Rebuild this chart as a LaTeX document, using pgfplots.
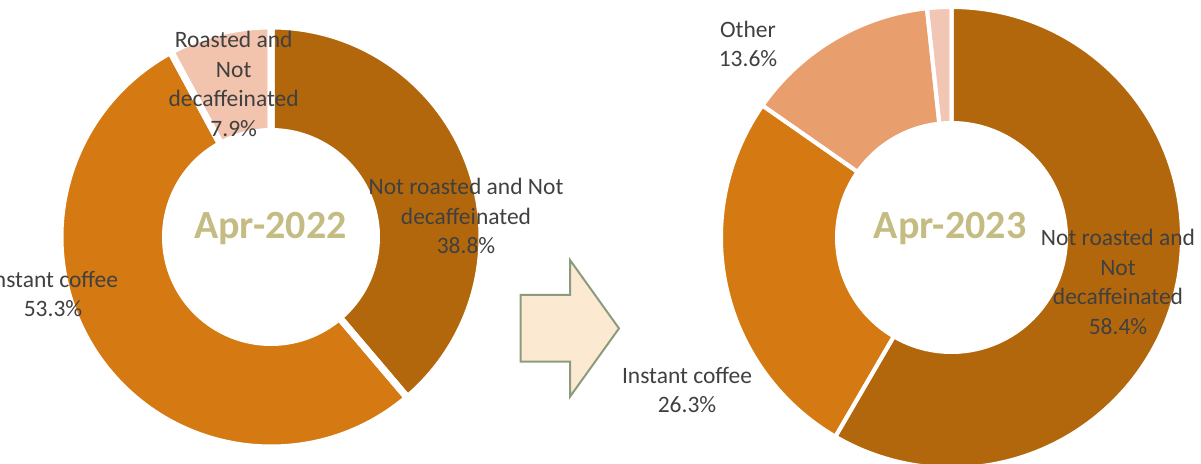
\documentclass[border=0pt]{standalone}
\usepackage{pgfplots}
\pgfplotsset{compat=1.18}
\usepackage{fontspec}
\setmainfont{Carlito}

\definecolor{cDark}{HTML}{B3670C}
\definecolor{cInst}{HTML}{D57A12}
\definecolor{cRoast}{HTML}{F2C3AD}
\definecolor{cOther}{HTML}{E89E6D}
\definecolor{cPale}{HTML}{F2C6B4}
\definecolor{cText}{HTML}{404040}
\definecolor{cTitle}{HTML}{C4BC83}
\definecolor{cArrow}{HTML}{FBE9D2}
\definecolor{cArrowLine}{HTML}{8C9B7E}

% ring segment: cx, cy, R, r, start %, end % (clockwise from 12 o'clock)
\newcommand\ring[6]{%
  ([shift={({90-3.6*(#5)}:#3bp)}]axis cs:#1,#2)
  arc[start angle={90-3.6*(#5)}, end angle={90-3.6*(#6)}, radius=#3bp]
  -- ([shift={({90-3.6*(#6)}:#4bp)}]axis cs:#1,#2)
  arc[start angle={90-3.6*(#6)}, end angle={90-3.6*(#5)}, radius=#4bp]
  -- cycle}

\tikzset{
  lbl/.style={font=\fontsize{23.5bp}{29.4bp}\selectfont, text=cText,
    align=center, inner sep=0pt},
  ttl/.style={font=\fontsize{40bp}{48bp}\selectfont\bfseries, text=cTitle,
    inner sep=0pt},
}

\begin{document}
\begin{tikzpicture}
\useasboundingbox (0,0) rectangle (1201bp,464bp);
\begin{axis}[
  at={(0,0)}, anchor=south west,
  width=1201bp, height=464bp, scale only axis,
  xmin=0, xmax=1201, ymin=0, ymax=464,
  hide axis, clip=false,
]
% Apr-2022: 38.8 / 53.3 / 7.9
\fill[cDark]  \ring{271}{227}{211}{105.5}{0}{38.8};
\fill[cInst]  \ring{271}{227}{211}{105.5}{38.8}{38.8+53.3};
\fill[cRoast] \ring{271}{227}{211}{105.5}{38.8+53.3}{100};
\draw[white, line width=7bp] \ring{271}{227}{211}{105.5}{0}{38.8};
\draw[white, line width=7bp] \ring{271}{227}{211}{105.5}{38.8}{38.8+53.3};
\draw[white, line width=7bp] \ring{271}{227}{211}{105.5}{38.8+53.3}{100};

% Apr-2023: 58.4 / 26.3 / 13.6 / 1.7
\fill[cDark]  \ring{951.5}{226.5}{230.5}{114.5}{0}{58.4};
\fill[cInst]  \ring{951.5}{226.5}{230.5}{114.5}{58.4}{58.4+26.3};
\fill[cOther] \ring{951.5}{226.5}{230.5}{114.5}{58.4+26.3}{58.4+26.3+13.6};
\fill[cPale]  \ring{951.5}{226.5}{230.5}{114.5}{58.4+26.3+13.6}{100};
\draw[white, line width=4bp] \ring{951.5}{226.5}{230.5}{114.5}{0}{58.4};
\draw[white, line width=4bp] \ring{951.5}{226.5}{230.5}{114.5}{58.4}{58.4+26.3};
\draw[white, line width=4bp] \ring{951.5}{226.5}{230.5}{114.5}{58.4+26.3}{58.4+26.3+13.6};
\draw[white, line width=4bp] \ring{951.5}{226.5}{230.5}{114.5}{58.4+26.3+13.6}{100};

% arrow
\addplot[fill=cArrow, draw=cArrowLine, line width=2bp]
  coordinates {(520.7,169) (570,169) (570,204) (619,135.6) (570,67.3) (570,102.3) (520.7,102.3)} -- cycle;

% labels
\node[lbl] at (axis cs:233.7,380) {Roasted and\\Not\\decaffeinated\\7.9\%};
\node[lbl] at (axis cs:466,248) {Not roasted and Not\\decaffeinated\\38.8\%};
\node[lbl] at (axis cs:53,170) {Instant coffee\\53.3\%};
\node[ttl] at (axis cs:270.5,235) {Apr-2022};

\node[lbl] at (axis cs:748,420) {Other\\13.6\%};
\node[lbl] at (axis cs:687,74) {Instant coffee\\26.3\%};
\node[lbl] at (axis cs:1118,182) {Not roasted and\\Not\\decaffeinated\\58.4\%};
\node[ttl] at (axis cs:950,235) {Apr-2023};
\end{axis}
\end{tikzpicture}
\end{document}
